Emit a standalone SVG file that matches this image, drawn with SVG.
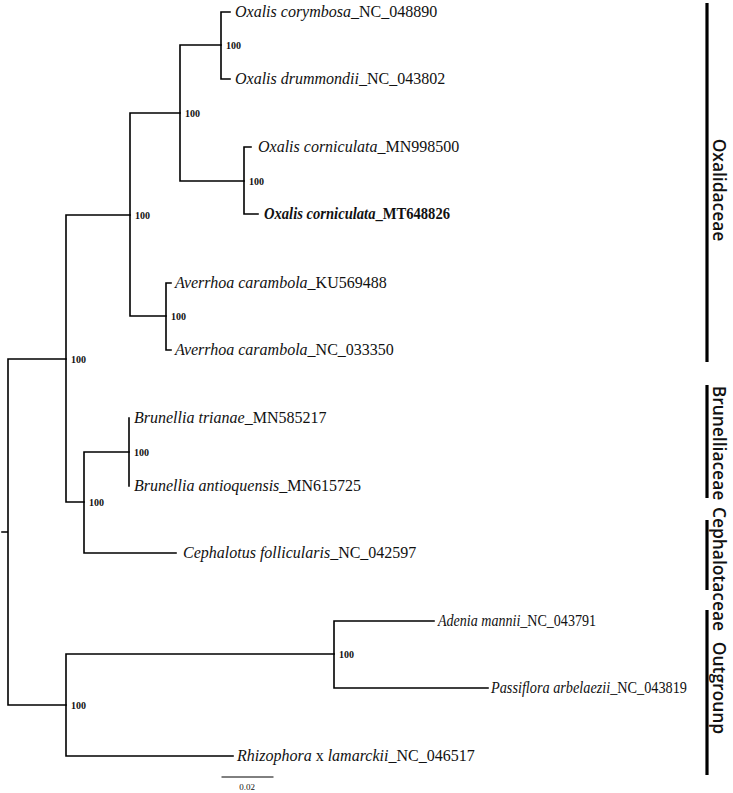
<svg xmlns="http://www.w3.org/2000/svg" width="733" height="793" viewBox="0 0 733 793">
<style>
.br{stroke:#000;stroke-width:1.6;fill:none;stroke-linecap:square}
.lb{font-family:"Liberation Serif","Times New Roman",serif;font-size:16px;fill:#111}
.bs{font-family:"Liberation Serif","Times New Roman",serif;font-size:10px;font-weight:bold;fill:#111}
.bar{stroke:#000;stroke-width:3.2}
.fam{font-family:"Open Sans","DejaVu Sans",sans-serif;font-size:17.4px;font-weight:600;fill:#111;text-anchor:middle}
</style>
<rect width="733" height="793" fill="#fff"/>
<g id="connectors">
<path class="br" d="M2,532H8M8,359V705M8,359H66M8,705H66"/>
<path class="br" d="M66,215V502M66,215H130M66,502H84"/>
<path class="br" d="M130,113V316M130,113H180M130,316H166"/>
<path class="br" d="M180,45V181M180,45H221M180,181H244"/>
<path class="br" d="M221,12V79M221,12H230M221,79H230"/>
<path class="br" d="M244,147V214M244,147H251M244,214H258"/>
<path class="br" d="M166,283V350M166,283H171M166,350H171"/>
<path class="br" d="M84,452V553M84,452H129M84,553H176"/>
<path class="br" d="M129,418V486"/>
<path class="br" d="M66,654V756M66,654H334M66,756H233"/>
<path class="br" d="M334,621V688M334,621H434M334,688H488"/>
<path class="br" d="M222,777H273" style="stroke-width:1"/>
</g>
<g id="leaf-oxalis-corymbosa"><text class="lb" x="235" y="17"><tspan font-style="italic">Oxalis corymbosa</tspan>_NC_048890</text></g>
<g id="leaf-oxalis-drummondii"><text class="lb" x="235" y="84"><tspan font-style="italic">Oxalis drummondii</tspan>_NC_043802</text></g>
<g id="leaf-oxalis-corniculata-mn"><text class="lb" x="258" y="152"><tspan font-style="italic">Oxalis corniculata</tspan>_MN998500</text></g>
<g id="leaf-oxalis-corniculata-mt"><text class="lb" x="264" y="219" font-weight="bold" textLength="186" lengthAdjust="spacingAndGlyphs"><tspan font-style="italic">Oxalis corniculata</tspan>_MT648826</text></g>
<g id="leaf-averrhoa-ku"><text class="lb" x="175" y="288"><tspan font-style="italic">Averrhoa carambola</tspan>_KU569488</text></g>
<g id="leaf-averrhoa-nc"><text class="lb" x="175" y="355"><tspan font-style="italic">Averrhoa carambola</tspan>_NC_033350</text></g>
<g id="leaf-brunellia-trianae"><text class="lb" x="134" y="423"><tspan font-style="italic">Brunellia trianae</tspan>_MN585217</text></g>
<g id="leaf-brunellia-antioquensis"><text class="lb" x="134" y="491"><tspan font-style="italic">Brunellia antioquensis</tspan>_MN615725</text></g>
<g id="leaf-cephalotus"><text class="lb" x="183" y="558"><tspan font-style="italic">Cephalotus follicularis</tspan>_NC_042597</text></g>
<g id="leaf-adenia"><text class="lb" x="438" y="626" textLength="158" lengthAdjust="spacingAndGlyphs"><tspan font-style="italic">Adenia mannii</tspan>_NC_043791</text></g>
<g id="leaf-passiflora"><text class="lb" x="491" y="693" textLength="196" lengthAdjust="spacingAndGlyphs"><tspan font-style="italic">Passiflora arbelaezii</tspan>_NC_043819</text></g>
<g id="leaf-rhizophora"><text class="lb" x="237" y="761"><tspan font-style="italic">Rhizophora</tspan> x <tspan font-style="italic">lamarckii</tspan>_NC_046517</text></g>
<g id="support-values">
<text class="bs" x="226" y="49">100</text>
<text class="bs" x="249" y="185">100</text>
<text class="bs" x="185" y="117">100</text>
<text class="bs" x="171" y="320">100</text>
<text class="bs" x="135" y="219">100</text>
<text class="bs" x="134" y="456">100</text>
<text class="bs" x="89" y="506">100</text>
<text class="bs" x="71" y="363">100</text>
<text class="bs" x="339" y="658">100</text>
<text class="bs" x="71" y="709">100</text>
</g>
<g id="scale-bar"><text x="247" y="790" font-family="Liberation Serif, serif" font-size="9" text-anchor="middle" fill="#111">0.02</text></g>
<g id="clade-oxalidaceae"><line class="bar" x1="707" y1="3" x2="707" y2="362"/><text class="fam" transform="translate(713,190) rotate(90)">Oxalidaceae</text></g>
<g id="clade-brunelliaceae"><line class="bar" x1="707" y1="385" x2="707" y2="498"/><text class="fam" transform="translate(713,443) rotate(90)">Brunelliaceae</text></g>
<g id="clade-cephalotaceae"><line class="bar" x1="707" y1="520" x2="707" y2="590"/><text class="fam" transform="translate(713,569) rotate(90)">Cephalotaceae</text></g>
<g id="clade-outgroup"><line class="bar" x1="707" y1="610" x2="707" y2="775"/><text class="fam" transform="translate(713,688) rotate(90)">Outgrounp</text></g>
</svg>
